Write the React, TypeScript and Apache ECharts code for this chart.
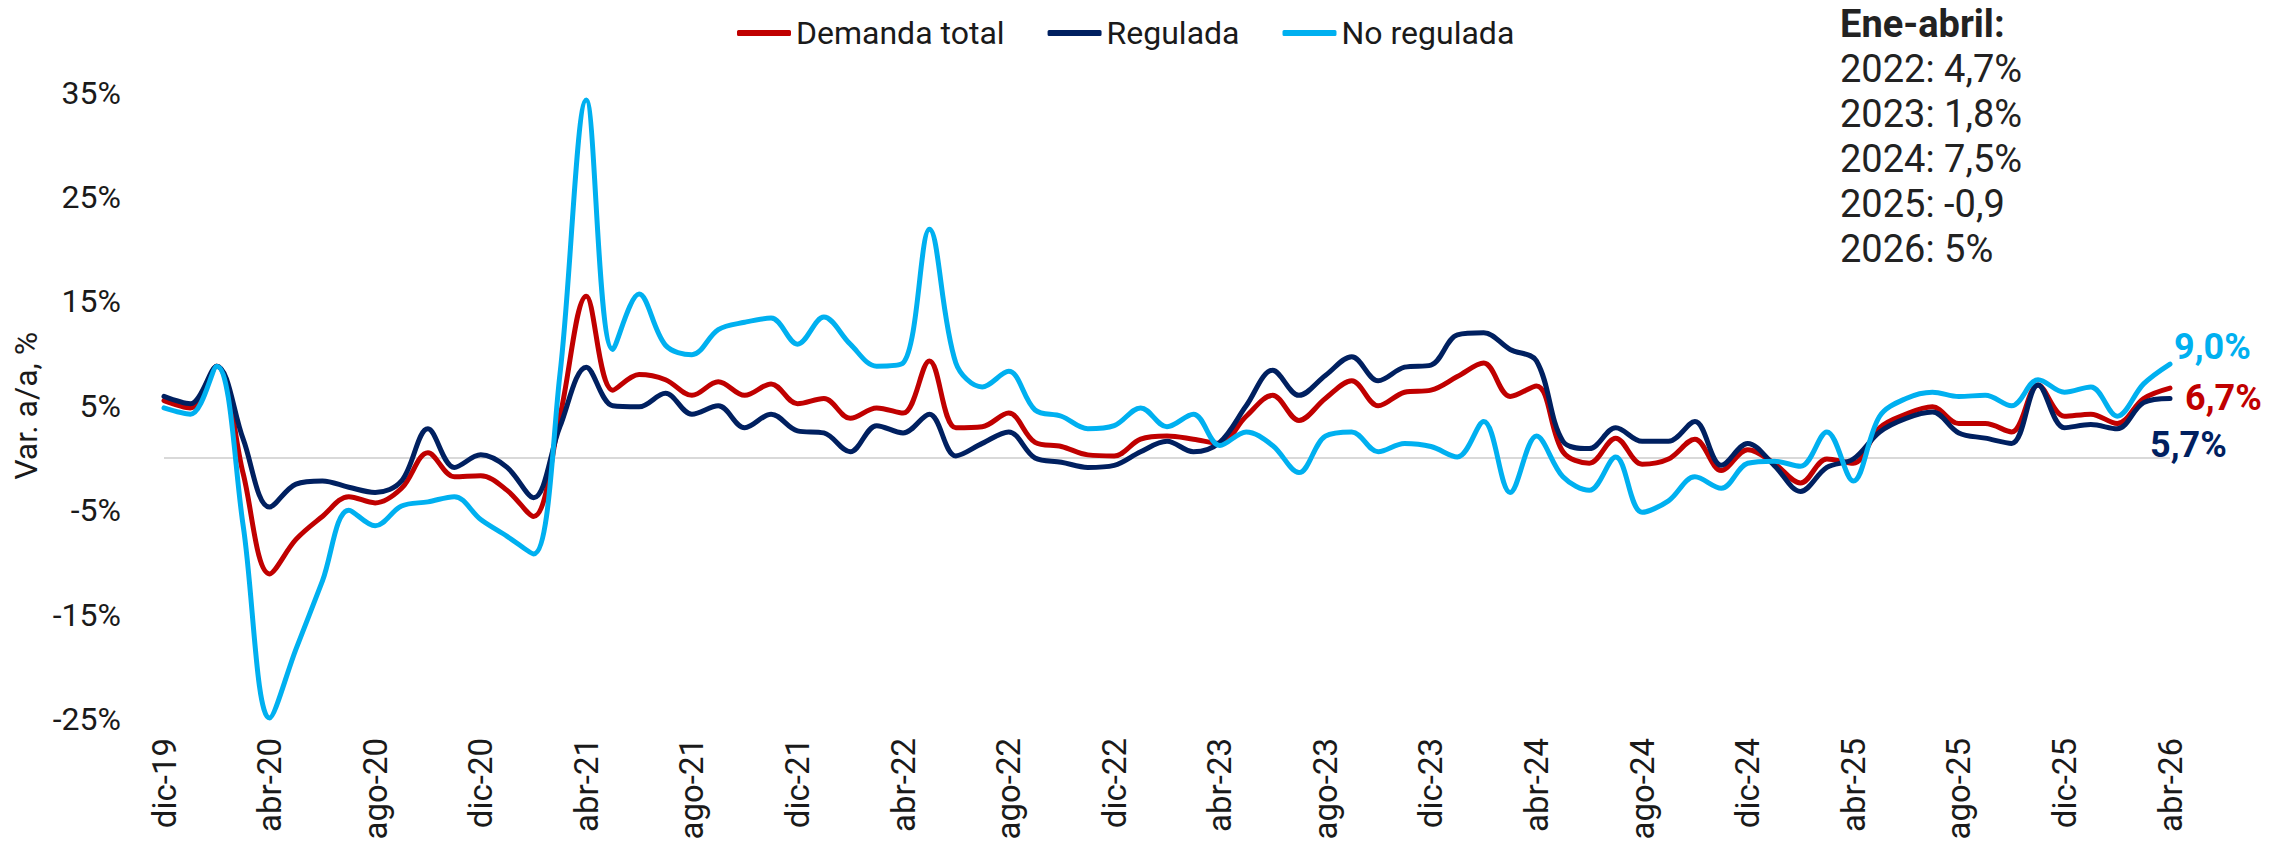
import React, { useEffect, useRef } from "react";
import * as echarts from "echarts";

const categories = [
  "dic-19",
  "ene-20","feb-20","mar-20","abr-20","may-20","jun-20","jul-20","ago-20","sep-20","oct-20","nov-20","dic-20",
  "ene-21","feb-21","mar-21","abr-21","may-21","jun-21","jul-21","ago-21","sep-21","oct-21","nov-21","dic-21",
  "ene-22","feb-22","mar-22","abr-22","may-22","jun-22","jul-22","ago-22","sep-22","oct-22","nov-22","dic-22",
  "ene-23","feb-23","mar-23","abr-23","may-23","jun-23","jul-23","ago-23","sep-23","oct-23","nov-23","dic-23",
  "ene-24","feb-24","mar-24","abr-24","may-24","jun-24","jul-24","ago-24","sep-24","oct-24","nov-24","dic-24",
  "ene-25","feb-25","mar-25","abr-25","may-25","jun-25","jul-25","ago-25","sep-25","oct-25","nov-25","dic-25",
  "ene-26","feb-26","mar-26","abr-26",
];

const demandaTotal = [
  5.5,
  4.8, 8.8, -1.5, -11.1, -7.8, -5.6, -3.7, -4.3, -2.9, 0.5, -1.8, -1.7,
  -3.1, -5.6, 4.0, 15.5, 6.5, 8.0, 7.5, 6.0, 7.3, 6.0, 7.1, 5.2,
  5.7, 3.8, 4.8, 4.3, 9.3, 2.9, 3.0, 4.3, 1.5, 1.1, 0.3, 0.2,
  1.8, 2.1, 1.8, 1.4, 4.0, 6.0, 3.6, 5.7, 7.4, 5.0, 6.3, 6.5,
  7.8, 9.1, 5.9, 6.9, 0.6, -0.5, 1.9, -0.6, -0.1, 1.8, -1.2, 0.8,
  -0.5, -2.4, -0.1, -0.5, 2.9, 4.2, 4.9, 3.3, 3.3, 2.5, 7.0, 4.0,
  4.2, 3.3, 5.7, 6.7,
];

const regulada = [
  5.9,
  5.2, 8.8, 1.8, -4.7, -2.5, -2.2, -2.8, -3.3, -2.2, 2.8, -0.9, 0.3,
  -0.9, -3.8, 3.0, 8.7, 5.0, 4.9, 6.2, 4.2, 5.0, 2.9, 4.2, 2.6,
  2.4, 0.6, 3.1, 2.4, 4.2, 0.2, 1.4, 2.5, 0.0, -0.4, -0.9, -0.7,
  0.6, 1.6, 0.6, 1.5, 5.0, 8.4, 6.0, 7.9, 9.7, 7.4, 8.7, 8.9,
  11.8, 12.0, 10.4, 9.3, 1.6, 0.9, 2.9, 1.6, 1.6, 3.5, -0.7, 1.4,
  -0.7, -3.2, -0.9, -0.1, 2.5, 3.8, 4.4, 2.4, 1.9, 1.4, 7.0, 2.9,
  3.2, 2.8, 5.3, 5.7,
];

const noRegulada = [
  4.8,
  4.2, 8.8, -6.5, -24.9, -18.3, -11.8, -5.0, -6.5, -4.6, -4.2, -3.7, -5.9,
  -7.5, -9.2, 8.0, 34.3, 10.4, 15.7, 10.8, 9.9, 12.3, 13.0, 13.4, 10.9,
  13.5, 10.9, 8.8, 9.1, 21.9, 9.1, 6.8, 8.3, 4.6, 4.0, 2.8, 3.1,
  4.8, 3.0, 4.2, 1.2, 2.5, 1.2, -1.4, 2.1, 2.5, 0.6, 1.4, 1.1,
  0.1, 3.5, -3.3, 2.1, -1.8, -3.1, 0.1, -5.2, -4.1, -1.8, -2.9, -0.5,
  -0.3, -0.8, 2.5, -2.2, 4.0, 5.7, 6.3, 5.9, 6.0, 5.0, 7.5, 6.3,
  6.8, 4.0, 7.1, 9.0,
];

const seriesNames = ["Demanda total", "Regulada", "No regulada"];
const seriesColors = ["#C00000", "#002060", "#00B0F0"];

const annotationLines = [
  "Ene-abril:",
  "2022: 4,7%",
  "2023: 1,8%",
  "2024: 7,5%",
  "2025: -0,9",
  "2026: 5%",
];

const FONT = "Roboto";
const TEXT_COLOR = "#1a1a1a";

const fmtPct = (v: number) => v.toFixed(1).replace(".", ",") + "%";

export default function App() {
  const ref = useRef<HTMLDivElement>(null);

  useEffect(() => {
    if (!ref.current) return;
    const chart = echarts.init(ref.current, undefined, { renderer: "svg" });

    const datasets = [demandaTotal, regulada, noRegulada];
    const endLabelPlacement = [
      { distance: 15, offset: [0, 10] },
      { distance: 0, offset: [-20, 47] },
      { distance: 4, offset: [0, -17] },
    ];

    const series = datasets.map((d, k) => ({
      name: seriesNames[k],
      type: "line",
      data: d,
      smooth: 0.35,
      symbol: "none",
      showSymbol: false,
      lineStyle: { color: seriesColors[k], width: 5, cap: "round", join: "round" },
      itemStyle: { color: seriesColors[k] },
      endLabel: {
        show: true,
        formatter: () => fmtPct(d[d.length - 1]),
        color: seriesColors[k],
        fontSize: 36,
        fontWeight: "bold",
        fontFamily: FONT,
        distance: endLabelPlacement[k].distance,
        offset: endLabelPlacement[k].offset,
      },
      markLine:
        k === 0
          ? {
              silent: true,
              symbol: ["none", "none"],
              label: { show: false },
              lineStyle: { color: "#d9d9d9", width: 2, type: "solid" },
              data: [{ yAxis: 0 }],
              z: 1,
            }
          : undefined,
    }));

    const option = {
      animation: false,
      textStyle: { fontFamily: FONT },
      grid: {
        left: 164,
        right: 99,
        top: 92.6,
        bottom: 124,
        containLabel: false,
        outerBoundsMode: "none",
      },
      legend: {
        data: seriesNames,
        left: 732,
        top: 12,
        itemWidth: 54,
        itemHeight: 6,
        itemGap: 43,
        icon: "roundRect",
        textStyle: { fontSize: 32, color: TEXT_COLOR, fontFamily: FONT },
      },
      xAxis: {
        type: "category",
        data: categories,
        boundaryGap: false,
        axisLine: { show: false, onZero: false },
        axisTick: { show: false },
        splitLine: { show: false },
        axisLabel: {
          interval: 3,
          rotate: 90,
          fontSize: 33,
          color: TEXT_COLOR,
          fontFamily: FONT,
          margin: 19,
        },
      },
      yAxis: {
        type: "value",
        min: -25,
        max: 35,
        interval: 10,
        name: "Var. a/a, %",
        nameLocation: "middle",
        nameGap: 118,
        nameTextStyle: { fontSize: 32, color: TEXT_COLOR, fontFamily: FONT },
        axisLine: { show: false },
        axisTick: { show: false },
        splitLine: { show: false },
        axisLabel: {
          formatter: "{value}%",
          fontSize: 32,
          color: TEXT_COLOR,
          fontFamily: FONT,
          margin: 43,
        },
      },
      graphic: annotationLines.map((t, k) => ({
        type: "text",
        x: 1840,
        y: 24 + 45 * k,
        style: {
          text: t,
          fontSize: 38,
          fontFamily: FONT,
          fontWeight: k === 0 ? "bold" : "normal",
          fill: "#222222",
          align: "left",
          verticalAlign: "middle",
        },
      })),
      series,
    };

    chart.setOption(option as any);
    return () => chart.dispose();
  }, []);

  return (
    <div
      ref={ref}
      style={{ position: "fixed", left: 0, top: 0, width: 2269, height: 843, background: "#ffffff" }}
    />
  );
}
